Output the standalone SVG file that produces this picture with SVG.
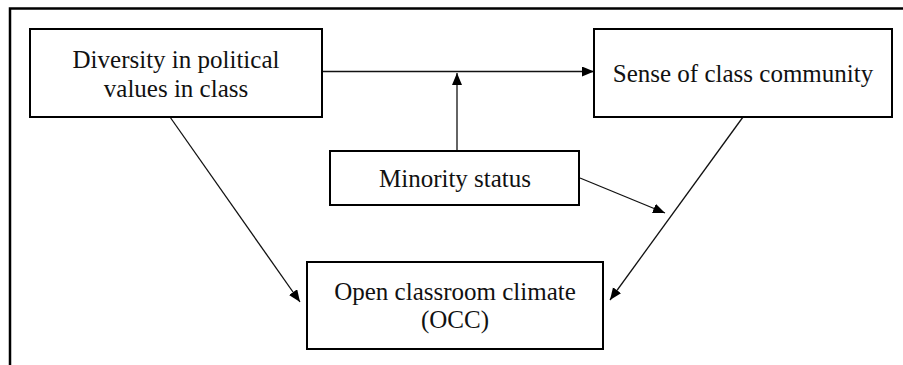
<svg xmlns="http://www.w3.org/2000/svg" width="903" height="365" viewBox="0 0 903 365">
<style>
.box{fill:#fff;stroke:#000;stroke-width:2}
.lbl{font-family:"Liberation Serif","Times New Roman",serif;font-size:25px;fill:#111;text-anchor:middle}
.edge{stroke:#111;stroke-width:1.3;fill:none;marker-end:url(#ah)}
.frame{stroke:#000;stroke-width:2.5;fill:none}
</style>
<defs>
<marker id="ah" markerUnits="userSpaceOnUse" markerWidth="14" markerHeight="12" refX="12" refY="5" orient="auto">
<path d="M0,0 L12,5 L0,10 Z" fill="#000"/>
</marker>
</defs>
<rect width="903" height="365" fill="#fff"/>
<path class="frame" d="M10,365 V8.5 H903"/>
<g id="connectors">
<path class="edge" d="M322,71.5 H594"/>
<path class="edge" d="M457,151 V73"/>
<path class="edge" d="M170,117 L300,302"/>
<path class="edge" d="M743,117 L610,300"/>
<path class="edge" d="M580,178 L665,213"/>
</g>
<g id="node-diversity">
<rect class="box" x="30" y="29" width="292" height="88"/>
<text class="lbl" x="176" y="68">Diversity in political</text>
<text class="lbl" x="176" y="97">values in class</text>
</g>
<g id="node-sense">
<rect class="box" x="594" y="29" width="298" height="88"/>
<text class="lbl" x="743" y="82">Sense of class community</text>
</g>
<g id="node-minority">
<rect class="box" x="330" y="151" width="249" height="54"/>
<text class="lbl" x="455" y="187">Minority status</text>
</g>
<g id="node-occ">
<rect class="box" x="307" y="262" width="296" height="87"/>
<text class="lbl" x="455" y="300">Open classroom climate</text>
<text class="lbl" x="455" y="328">(OCC)</text>
</g>
</svg>
